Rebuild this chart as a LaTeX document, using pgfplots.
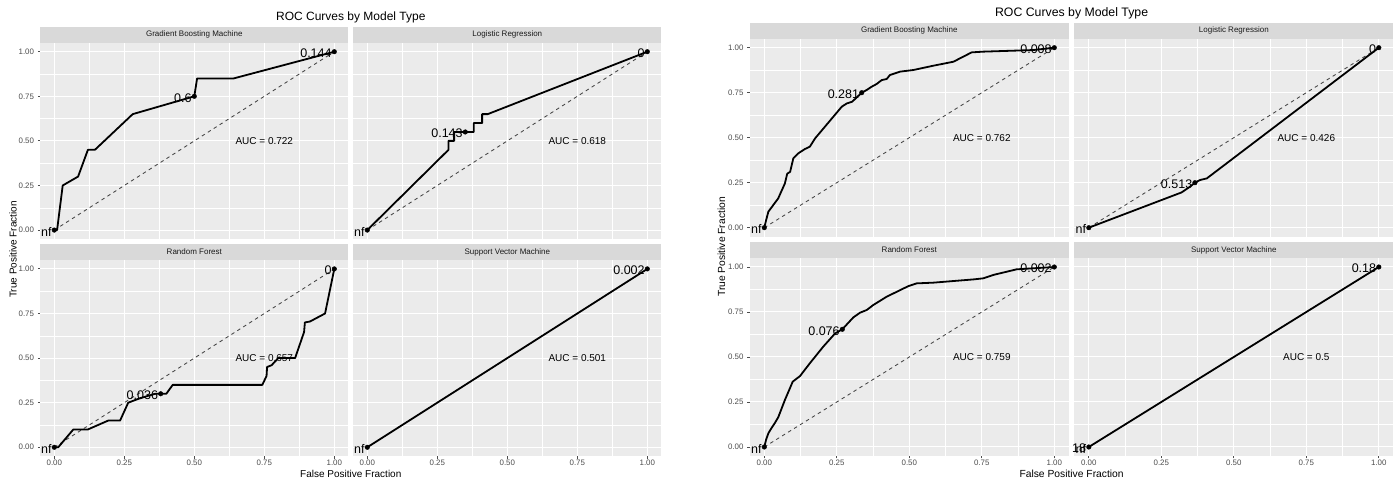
\documentclass[border=0pt]{standalone}
\usepackage{pgfplots}
\pgfplotsset{compat=1.18}
\usepackage{fontspec}
\setmainfont{Liberation Sans}
\definecolor{panelbg}{HTML}{EBEBEB}
\definecolor{stripbg}{HTML}{D9D9D9}
\definecolor{tickgray}{HTML}{4D4D4D}
\definecolor{striptext}{HTML}{1A1A1A}
\definecolor{diaggray}{HTML}{444444}
\pgfplotsset{
  facet/.style={
    scale only axis, clip=false,
    xmin=-0.05, xmax=1.05, ymin=-0.05, ymax=1.05,
    axis background/.style={fill=panelbg, draw=none},
    axis line style={draw=none},
    xtick={0,0.25,0.5,0.75,1}, ytick={0,0.25,0.5,0.75,1},
    minor xtick={0.125,0.375,0.625,0.875}, minor ytick={0.125,0.375,0.625,0.875},
    grid=both,
    major grid style={white, line width=1pt},
    minor grid style={white, line width=0.5pt},
    tick align=outside, major tick length=2.5pt, minor tick length=0pt,
    xtick pos=left, ytick pos=left,
    major tick style={tickgray, line width=0.9pt},
    /pgf/number format/fixed, /pgf/number format/fixed zerofill,
    /pgf/number format/precision=2, /pgf/number format/assume math mode=true,
    ticklabel style={font=\fontsize{7.9}{9}\selectfont, text=tickgray},
    yticklabel style={anchor=east, inner sep=0pt, xshift=-3.6pt},
    xticklabel style={anchor=north, inner sep=0pt, yshift=-0.8pt},
  },
  nox/.style={xticklabels={}, xtick style={draw=none}},
  noy/.style={yticklabels={}, ytick style={draw=none}},
  roc/.style={black, line width=1.8pt, line join=round, mark=none},
  diag/.style={diaggray, line width=0.85pt, dash pattern=on 3.5pt off 3.5pt, mark=none},
  dots/.style={only marks, mark=*, mark size=2.3pt, black},
}
\newcommand{\strip}[1]{%
  \fill[stripbg] (rel axis cs:0,1) rectangle ([yshift=16pt]rel axis cs:1,1);
  \node[font=\fontsize{8}{9}\selectfont, text=striptext] at ([yshift=8pt]rel axis cs:0.5,1) {#1};}
\newcommand{\lab}[3]{\node[anchor=east, inner sep=0pt, font=\fontsize{12.5}{13}\selectfont, xshift=-2.5pt, yshift=-1.5pt] at (axis cs:#1,#2) {#3};}
\newcommand{\auc}[1]{\node[font=\fontsize{10}{12}\selectfont] at (axis cs:0.75,0.5) {AUC = #1};}
\begin{document}
\begin{tikzpicture}
\useasboundingbox (0pt,0pt) rectangle (1400pt,481pt);
% ===================== LEFT FIGURE =====================
\begin{axis}[facet, nox, at={(40.3pt,242pt)}, anchor=south west, width=308pt, height=196.2pt]
\addplot[diag] coordinates {(0,0) (1,1)};
\addplot[roc] coordinates {(0,0) (0.01,0) (0.03,0.25) (0.085,0.30) (0.12,0.45) (0.145,0.45) (0.28,0.65) (0.50,0.75) (0.51,0.85) (0.64,0.85) (1,1)};
\addplot[dots] coordinates {(0,0) (0.5,0.75) (1,1)};
\lab{0}{0}{nf}\lab{0.5}{0.75}{0.6}\lab{1}{1}{0.144}
\auc{0.722}
\strip{Gradient Boosting Machine}
\end{axis}
\begin{axis}[facet, nox, noy, at={(353.3pt,242pt)}, anchor=south west, width=308pt, height=196.2pt]
\addplot[diag] coordinates {(0,0) (1,1)};
\addplot[roc] coordinates {(0,0) (0.29,0.45) (0.29,0.50) (0.31,0.50) (0.31,0.55) (0.35,0.55) (0.38,0.55) (0.38,0.60) (0.41,0.60) (0.41,0.65) (0.43,0.65) (1,1)};
\addplot[dots] coordinates {(0,0) (0.35,0.55) (1,1)};
\lab{0}{0}{nf}\lab{0.35}{0.55}{0.143}\lab{1}{1}{0}
\auc{0.618}
\strip{Logistic Regression}
\end{axis}
\begin{axis}[facet, at={(40.3pt,24.8pt)}, anchor=south west, width=308pt, height=196.2pt]
\addplot[diag] coordinates {(0,0) (1,1)};
\addplot[roc] coordinates {(0,0) (0.014,0) (0.068,0.10) (0.12,0.10) (0.193,0.15) (0.235,0.15) (0.264,0.25) (0.306,0.275) (0.36,0.30) (0.38,0.30) (0.40,0.30) (0.423,0.35) (0.743,0.35) (0.758,0.40) (0.76,0.45) (0.776,0.46) (0.80,0.50) (0.86,0.50) (0.892,0.646) (0.895,0.70) (0.913,0.705) (0.967,0.75) (1,1)};
\addplot[dots] coordinates {(0,0) (0.38,0.30) (1,1)};
\lab{0}{0}{nf}\lab{0.38}{0.30}{0.036}\lab{1}{1}{0}
\auc{0.657}
\strip{Random Forest}
\end{axis}
\begin{axis}[facet, noy, at={(353.3pt,24.8pt)}, anchor=south west, width=308pt, height=196.2pt]
\addplot[diag] coordinates {(0,0) (1,1)};
\addplot[roc] coordinates {(0,0) (1,1)};
\addplot[dots] coordinates {(0,0) (1,1)};
\lab{0}{0}{nf}\lab{1}{1}{0.002}
\auc{0.501}
\strip{Support Vector Machine}
\end{axis}
\node[anchor=base, font=\fontsize{12}{14}\selectfont] at (350.8pt,460pt) {ROC Curves by Model Type};
\node[anchor=base, font=\fontsize{10}{12}\selectfont] at (350.8pt,3pt) {False Positive Fraction};
\node[anchor=base, rotate=90, font=\fontsize{10}{12}\selectfont] at (16.5pt,231.5pt) {True Positive Fraction};
% ===================== RIGHT FIGURE =====================
\begin{axis}[facet, nox, at={(749.8pt,244.3pt)}, anchor=south west, width=319pt, height=198pt]
\addplot[diag] coordinates {(0,0) (1,1)};
\addplot[roc] coordinates {(0,0) (0.006,0.04) (0.014,0.089) (0.031,0.126) (0.048,0.163) (0.071,0.246) (0.079,0.30) (0.089,0.31) (0.10,0.385) (0.117,0.413) (0.14,0.437) (0.157,0.45) (0.175,0.496) (0.209,0.561) (0.267,0.672) (0.284,0.69) (0.303,0.70) (0.336,0.75) (0.353,0.765) (0.37,0.783) (0.387,0.798) (0.405,0.82) (0.422,0.826) (0.433,0.848) (0.468,0.867) (0.514,0.876) (0.583,0.90) (0.652,0.922) (0.715,0.974) (0.755,0.978) (0.928,0.987) (1,1)};
\addplot[dots] coordinates {(0,0) (0.336,0.75) (1,1)};
\lab{0}{0}{nf}\lab{0.336}{0.75}{0.281}\lab{1}{1}{0.008}
\auc{0.762}
\strip{Gradient Boosting Machine}
\end{axis}
\begin{axis}[facet, nox, noy, at={(1074.3pt,244.3pt)}, anchor=south west, width=319pt, height=198pt]
\addplot[diag] coordinates {(0,0) (1,1)};
\addplot[roc] coordinates {(0,0) (0.32,0.196) (0.349,0.228) (0.366,0.25) (0.384,0.265) (0.407,0.274) (1,1)};
\addplot[dots] coordinates {(0,0) (0.366,0.25) (1,1)};
\lab{0}{0}{nf}\lab{0.366}{0.25}{0.513}\lab{1}{1}{0}
\auc{0.426}
\strip{Logistic Regression}
\end{axis}
\begin{axis}[facet, at={(749.8pt,25pt)}, anchor=south west, width=319pt, height=198pt]
\addplot[diag] coordinates {(0,0) (1,1)};
\addplot[roc] coordinates {(0,0) (0.006,0.04) (0.014,0.076) (0.022,0.098) (0.037,0.135) (0.048,0.165) (0.071,0.261) (0.098,0.363) (0.123,0.394) (0.157,0.465) (0.203,0.557) (0.244,0.631) (0.269,0.654) (0.307,0.72) (0.33,0.746) (0.353,0.761) (0.376,0.789) (0.422,0.835) (0.497,0.894) (0.525,0.909) (0.583,0.913) (0.721,0.931) (0.755,0.937) (0.79,0.956) (0.87,0.987) (1,1)};
\addplot[dots] coordinates {(0,0) (0.269,0.654) (1,1)};
\lab{0}{0}{nf}\lab{0.269}{0.654}{0.076}\lab{1}{1}{0.002}
\auc{0.759}
\strip{Random Forest}
\end{axis}
\begin{axis}[facet, noy, at={(1074.3pt,25pt)}, anchor=south west, width=319pt, height=198pt]
\addplot[diag] coordinates {(0,0) (1,1)};
\addplot[roc] coordinates {(0,0) (1,1)};
\addplot[dots] coordinates {(0,0) (1,1)};
\lab{0}{0}{nf}\lab{0}{0}{18}\lab{1}{1}{0.18}
\auc{0.5}
\strip{Support Vector Machine}
\end{axis}
\node[anchor=base, font=\fontsize{12.3}{14}\selectfont] at (1071.6pt,464.3pt) {ROC Curves by Model Type};
\node[anchor=base, font=\fontsize{10.3}{12}\selectfont] at (1071.6pt,3pt) {False Positive Fraction};
\node[anchor=base, rotate=90, font=\fontsize{10.3}{12}\selectfont] at (725pt,234pt) {True Positive Fraction};
\end{tikzpicture}
\end{document}
